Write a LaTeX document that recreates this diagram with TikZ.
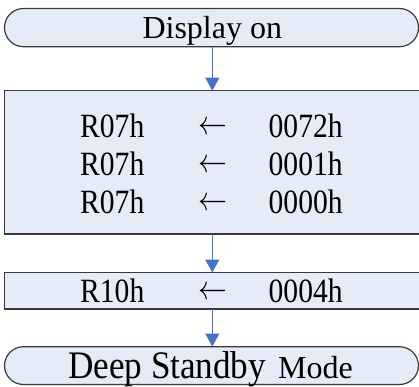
\RequirePackage{fix-cm}
\documentclass[tikz,border=0pt]{standalone}
\usepackage{fontspec}
\setmainfont{Liberation Serif}
\usetikzlibrary{arrows.meta}
\definecolor{boxfill}{HTML}{E6ECF7}
\definecolor{boxline}{HTML}{3A3A3A}
\definecolor{flow}{HTML}{4472C4}
\tikzset{
  shapebox/.style={draw=boxline, line width=1.2pt, fill=boxfill},
  flowarrow/.style={draw=flow, line width=1pt, -{Triangle[width=14pt,length=13pt]}},
  txt/.style={inner sep=0pt, anchor=base west},
  big/.style={font=\fontsize{34}{40}\selectfont},
}
\newcommand{\regtxt}[1]{\scalebox{0.87}[1]{#1}}
\newcommand{\larrow}{\raisebox{3pt}{\scalebox{0.85}[1]{$\leftarrow$}}}
\begin{document}
\begin{tikzpicture}[x=1pt,y=-1pt]
\useasboundingbox (0,0) rectangle (419,386);
\clip (0,0) rectangle (419,386);
% shapes
\draw[shapebox, rounded corners=19pt] (4.5,8.5) rectangle (418.5,46.7);
\node[inner sep=0pt, minimum width=414pt, minimum height=38pt] (top) at (211.5,27.6) {};
\draw[shapebox] (4.5,90.7) rectangle (430,234);
\node[inner sep=0pt, minimum width=425pt, minimum height=143pt] (main) at (217.25,162.35) {};
\draw[shapebox] (4.5,272.7) rectangle (430,309);
\node[inner sep=0pt, minimum width=425pt, minimum height=36.3pt] (reg) at (217.25,290.85) {};
\draw[shapebox, rounded corners=19pt] (4.5,346.7) rectangle (418.5,384.5);
\node[inner sep=0pt, minimum width=414pt, minimum height=37.8pt] (bot) at (211.5,365.6) {};
% texts
\node[inner sep=0pt, anchor=base, font=\fontsize{32}{38}\selectfont] (t1) at (212.3,38.3) {Display on};
\foreach \y/\v [count=\i] in {137/0072h,175/0001h,213/0000h}{
  \node[txt, big] (r\i) at (80,\y) {\regtxt{R07h}};
  \node[txt, big, anchor=base] (a\i) at (212.5,\y) {\larrow};
  \node[txt, big] (v\i) at (268.5,\y) {\regtxt{\v}};
}
\node[txt, big] (r4) at (80,302.7) {\regtxt{R10h}};
\node[txt, big, anchor=base] (a4) at (212.5,302.7) {\larrow};
\node[txt, big] (v4) at (268.5,302.7) {\regtxt{0004h}};
\node[txt, font=\fontsize{39}{44}\selectfont] (d1) at (68,378.3) {\scalebox{0.9}[1]{Deep Standby}};
\node[txt, font=\fontsize{32}{38}\selectfont] (d2) at (278,378.3) {Mode};
% connectors
\draw[flowarrow] (top.south -| 212.3,0) -- (main.north -| 212.3,0);
\draw[flowarrow] (main.south -| 212.3,0) -- (reg.north -| 212.3,0);
\draw[flowarrow] (reg.south -| 212.3,0) -- (bot.north -| 212.3,0);
\end{tikzpicture}
\end{document}
